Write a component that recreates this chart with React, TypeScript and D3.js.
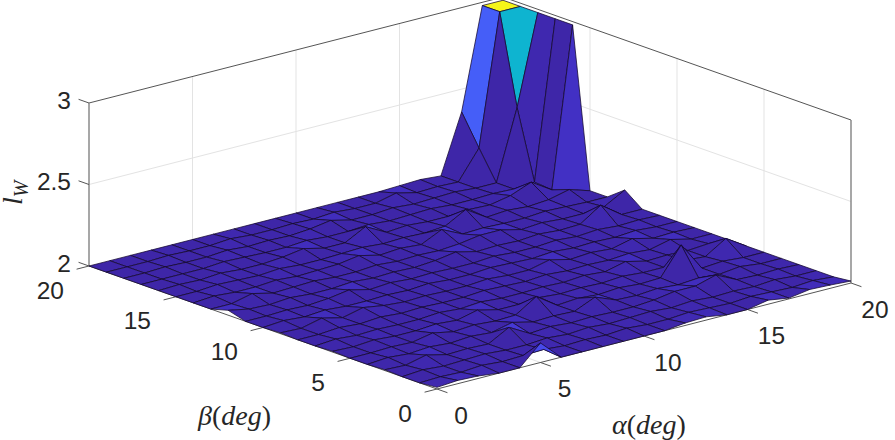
import React from "react";
import * as d3 from "d3";

const alphaTicks = [0, 5, 10, 15, 20];
const betaTicks = [0, 5, 10, 15, 20];
const zTicks = [2, 2.5, 3];
const alphaTickLabels = ["0", "5", "10", "15", "20"];
const betaTickLabels = ["0", "5", "10", "15", "20"];
const zTickLabels = ["2", "2.5", "3"];

// l_W by beta (rows, 0..20) and alpha (columns, 0..20)
const lW: number[][] = [
  [2.01, 2.02, 2.015, 2.0, 2.0, 2.12, 2.0, 2.0, 2.0, 2.0, 2.0, 2.0, 2.015, 2.02, 2.0, 2.0, 2.025, 2.005, 2.025, 2.02, 2.012],
  [2.0, 2.005, 2.0, 2.01, 2.0, 2.005, 2.01, 2.0, 2.005, 2.0, 2.01, 2.0, 2.0, 2.01, 2.005, 2.0, 2.01, 2.005, 2.0, 2.01, 2.0],
  [2.0, 2.01, 2.0, 2.005, 2.01, 2.0, 2.0, 2.01, 2.0, 2.01, 2.0, 2.005, 2.01, 2.0, 2.01, 2.0, 2.005, 2.0, 2.01, 2.0, 2.0],
  [2.005, 2.0, 2.03, 2.0, 2.005, 2.0, 2.07, 2.0, 2.01, 2.0, 2.005, 2.0, 2.0, 2.01, 2.03, 2.03, 2.066, 2.005, 2.0, 2.005, 2.0],
  [2.0, 2.01, 2.0, 2.01, 2.0, 2.01, 2.0, 2.03, 2.0, 2.005, 2.0, 2.055, 2.005, 2.0, 2.01, 2.0, 2.01, 2.0, 2.015, 2.0, 2.0],
  [2.0, 2.0, 2.005, 2.0, 2.025, 2.0, 2.01, 2.0, 2.005, 2.086, 2.0, 2.01, 2.0, 2.01, 2.0, 2.005, 2.175, 2.0, 2.01, 2.0, 2.0],
  [2.005, 2.0, 2.01, 2.0, 2.0, 2.01, 2.0, 2.03, 2.0, 2.0, 2.01, 2.0, 2.005, 2.0, 2.01, 2.0, 2.0, 2.01, 2.0, 2.08, 2.0],
  [2.0, 2.01, 2.0, 2.005, 2.0, 2.0, 2.01, 2.0, 2.01, 2.0, 2.0, 2.005, 2.0, 2.01, 2.0, 2.03, 2.0, 2.005, 2.0, 2.01, 2.0],
  [2.0, 2.0, 2.01, 2.0, 2.01, 2.0, 2.005, 2.0, 2.0, 2.01, 2.005, 2.0, 2.01, 2.0, 2.005, 2.0, 2.01, 2.0, 2.03, 2.0, 2.0],
  [2.005, 2.0, 2.03, 2.0, 2.03, 2.01, 2.0, 2.005, 2.0, 2.0, 2.01, 2.0, 2.0, 2.03, 2.0, 2.01, 2.0, 2.03, 2.0, 2.005, 2.0],
  [2.0, 2.01, 2.0, 2.01, 2.0, 2.0, 2.005, 2.0, 2.01, 2.0, 2.0, 2.01, 2.005, 2.0, 2.01, 2.0, 2.005, 2.0, 2.01, 2.0, 2.0],
  [2.0, 2.0, 2.005, 2.0, 2.01, 2.03, 2.0, 2.01, 2.0, 2.005, 2.0, 2.0, 2.01, 2.0, 2.0, 2.01, 2.0, 2.01, 2.0, 2.005, 2.0],
  [2.03, 2.005, 2.0, 2.01, 2.0, 2.0, 2.01, 2.0, 2.005, 2.0, 2.01, 2.03, 2.0, 2.005, 2.0, 2.01, 2.0, 2.005, 2.09, 2.0, 2.0],
  [2.0, 2.0, 2.03, 2.0, 2.005, 2.01, 2.0, 2.0, 2.01, 2.0, 2.005, 2.0, 2.01, 2.03, 2.03, 2.0, 2.01, 2.0, 2.0, 2.01, 2.08],
  [2.0, 2.01, 2.0, 2.0, 2.01, 2.0, 2.005, 2.01, 2.03, 2.0, 2.01, 2.0, 2.06, 2.0, 2.005, 2.0, 2.0, 2.01, 2.005, 2.0, 2.0],
  [2.0, 2.0, 2.01, 2.005, 2.0, 2.01, 2.0, 2.0, 2.005, 2.01, 2.0, 2.005, 2.0, 2.01, 2.08, 2.0, 2.01, 2.0, 2.01, 2.04, 2.0],
  [2.0, 2.005, 2.0, 2.01, 2.0, 2.0, 2.01, 2.03, 2.0, 2.0, 2.067, 2.0, 2.01, 2.0, 2.0, 2.01, 2.005, 2.03, 2.08, 2.0, 2.98],
  [2.0, 2.0, 2.0, 2.0, 2.01, 2.005, 2.0, 2.0, 2.01, 2.0, 2.0, 2.01, 2.0, 2.005, 2.01, 2.0, 2.0, 2.005, 2.0, 2.01, 2.98],
  [2.0, 2.0, 2.005, 2.0, 2.0, 2.01, 2.0, 2.005, 2.0, 2.01, 2.03, 2.0, 2.0, 2.01, 2.0, 2.005, 2.01, 2.0, 2.0, 2.43, 2.98],
  [2.0, 2.0, 2.0, 2.005, 2.0, 2.0, 2.01, 2.0, 2.0, 2.005, 2.0, 2.01, 2.0, 2.0, 2.03, 2.0, 2.005, 2.0, 2.176, 2.98, 2.98],
  [2.0, 2.0, 2.0, 2.0, 2.0, 2.0, 2.0, 2.0, 2.0, 2.0, 2.0, 2.0, 2.0, 2.0, 2.0, 2.005, 2.01, 2.0, 2.36, 2.98, 2.98],
];

const parulaStops = [0, 0.05, 0.1, 0.19, 0.3, 0.43, 0.6, 0.8, 1];
const parulaColors = ["#3e26a8", "#4332cb", "#4741e5", "#4563fc", "#2796eb", "#0eb4d0", "#42c08c", "#d0ba3a", "#f9fb15"];

// oblique (orthographic) projection of the MATLAB view
const origin = [437, 389];
const xA = d3.scaleLinear().domain([0, 20]).range([0, 414]);
const yA = d3.scaleLinear().domain([0, 20]).range([0, -106]);
const xB = d3.scaleLinear().domain([0, 20]).range([0, -348]);
const yB = d3.scaleLinear().domain([0, 20]).range([0, -123]);
const yZ = d3.scaleLinear().domain([2, 3]).range([0, -163]);
const color = d3.scaleLinear<string>().domain(parulaStops.map((t) => 2 + t)).range(parulaColors).clamp(true);

const P = (a: number, b: number, z: number): [number, number] => [
  origin[0] + xA(a) + xB(b),
  origin[1] + yA(a) + yB(b) + yZ(z),
];
const path = d3.line<[number, number]>();
const seg = (p: [number, number][]) => path(p) as string;

const TICK_FONT = "'Liberation Sans', Arial, sans-serif";
const MATH_FONT = "'Liberation Serif', serif";

export default function App() {
  const cells: React.ReactElement[] = [];
  for (let b = 19; b >= 0; b--) {
    for (let a = 19; a >= 0; a--) {
      const d =
        seg([
          P(a, b, lW[b][a]),
          P(a + 1, b, lW[b][a + 1]),
          P(a + 1, b + 1, lW[b + 1][a + 1]),
          P(a, b + 1, lW[b + 1][a]),
        ]) + "Z";
      cells.push(<path key={`${a}-${b}`} d={d} fill={color(lW[b][a])} stroke="#14082e" strokeWidth={0.75} strokeLinejoin="round" />);
    }
  }
  const grid = "#e3e3e3";
  const tickLen = 0.6;
  return (
    <svg width={895} height={440} style={{ position: "absolute", left: 0, top: 0, background: "#fff" }}>
      {/* wall and floor grid */}
      <g stroke={grid} strokeWidth={1} fill="none">
        {alphaTicks.slice(1, -1).map((t) => (
          <path key={`wa${t}`} d={seg([P(t, 20, 2), P(t, 20, 3)])} />
        ))}
        {betaTicks.slice(1, -1).map((t) => (
          <path key={`wb${t}`} d={seg([P(20, t, 2), P(20, t, 3)])} />
        ))}
        <path d={seg([P(0, 20, 2.5), P(20, 20, 2.5), P(20, 0, 2.5)])} />
        {alphaTicks.slice(1, -1).map((t) => (
          <path key={`fa${t}`} d={seg([P(t, 0, 2), P(t, 20, 2)])} />
        ))}
        {betaTicks.slice(1, -1).map((t) => (
          <path key={`fb${t}`} d={seg([P(0, t, 2), P(20, t, 2)])} />
        ))}
      </g>
      {/* box */}
      <g fill="none">
        <path d={seg([P(0, 20, 3), P(20, 20, 3), P(20, 0, 3)])} stroke="#555" strokeWidth={1} />
        <path d={seg([P(0, 20, 2), P(0, 20, 3)])} stroke="#8a8a8a" strokeWidth={1.5} />
        <path d={seg([P(20, 0, 2), P(20, 0, 3)])} stroke="#8a8a8a" strokeWidth={1.5} />
        <path d={seg([P(0, 20, 2), P(0, 0, 2), P(20, 0, 2)])} stroke="#555" strokeWidth={1} />
        {alphaTicks.map((t) => (
          <path key={`ta${t}`} d={seg([P(t, 0, 2), P(t, -tickLen, 2)])} stroke="#555" strokeWidth={1} />
        ))}
        {betaTicks.map((t) => (
          <path key={`tb${t}`} d={seg([P(0, t, 2), P(-tickLen, t, 2)])} stroke="#555" strokeWidth={1} />
        ))}
        {zTicks.map((t) => (
          <path key={`tz${t}`} d={seg([P(0, 20, t), P(0, 20 + tickLen, t)])} stroke="#555" strokeWidth={1} />
        ))}
      </g>
      <g>{cells}</g>
      {/* tick labels */}
      <g fontFamily={TICK_FONT} fontSize={24.5} fill="#262626" dominantBaseline="central">
        {zTicks.map((t, i) => (
          <text key={t} x={71} y={P(0, 20, t)[1] - 3} textAnchor="end">{zTickLabels[i]}</text>
        ))}
        {betaTicks.map((t, i) => (
          <text key={t} x={P(0, t, 2)[0] - 25} y={P(0, t, 2)[1] + 24} textAnchor="end">{betaTickLabels[i]}</text>
        ))}
        {alphaTicks.map((t, i) => (
          <text key={t} x={P(t, 0, 2)[0] + 24} y={P(t, 0, 2)[1] + 26} textAnchor="middle">{alphaTickLabels[i]}</text>
        ))}
      </g>
      {/* axis labels */}
      <g fontFamily={MATH_FONT} fontSize={28} fill="#262626">
        <text x={198} y={425}>
          <tspan fontStyle="italic">β</tspan>(<tspan fontStyle="italic">deg</tspan>)
        </text>
        <text x={612} y={434}>
          <tspan fontStyle="italic">α</tspan>(<tspan fontStyle="italic">deg</tspan>)
        </text>
        <text transform="translate(22,205) rotate(-90)">
          <tspan fontStyle="italic">l</tspan>
          <tspan fontStyle="italic" fontSize={20} dy={6}>W</tspan>
        </text>
      </g>
    </svg>
  );
}
